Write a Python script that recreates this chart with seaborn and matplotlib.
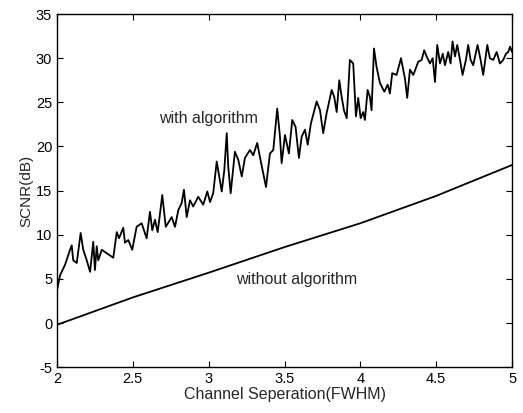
import numpy as np
import pandas as pd
import matplotlib
matplotlib.use("Agg")
import matplotlib.pyplot as plt
import seaborn as sns

# SCNR with algorithm (noisy trace)
sep_with = [2.000, 2.020, 2.053, 2.086, 2.097, 2.107, 2.130, 2.156, 2.173, 2.196,
            2.218, 2.239, 2.250, 2.262, 2.272, 2.295, 2.328, 2.371, 2.394, 2.409,
            2.437, 2.448, 2.470, 2.496, 2.525, 2.558, 2.591, 2.613, 2.628, 2.646,
            2.664, 2.694, 2.717, 2.756, 2.778, 2.800, 2.822, 2.837, 2.855, 2.877,
            2.898, 2.931, 2.964, 2.991, 3.009, 3.030, 3.053, 3.086, 3.103, 3.119,
            3.129, 3.145, 3.173, 3.195, 3.218, 3.239, 3.272, 3.294, 3.320, 3.338,
            3.378, 3.404, 3.426, 3.452, 3.470, 3.481, 3.503, 3.529, 3.551, 3.573,
            3.595, 3.613, 3.635, 3.653, 3.674, 3.712, 3.734, 3.755, 3.778, 3.811,
            3.828, 3.844, 3.861, 3.877, 3.892, 3.910, 3.931, 3.953, 3.971, 3.986,
            4.002, 4.019, 4.030, 4.048, 4.063, 4.074, 4.090, 4.107, 4.129, 4.158,
            4.180, 4.195, 4.210, 4.239, 4.268, 4.294, 4.309, 4.327, 4.349, 4.382,
            4.404, 4.421, 4.437, 4.459, 4.477, 4.492, 4.507, 4.525, 4.543, 4.558,
            4.579, 4.595, 4.608, 4.624, 4.639, 4.657, 4.674, 4.696, 4.711, 4.727,
            4.744, 4.773, 4.793, 4.810, 4.837, 4.854, 4.876, 4.899, 4.920, 4.942,
            4.960, 4.975, 4.987, 5.000]
scnr_with = [3.7, 5.4, 6.6, 8.3, 8.8, 7.1, 6.8, 10.2, 8.3, 7.1,
             5.8, 9.2, 6.0, 8.7, 7.1, 8.3, 7.9, 7.4, 10.3, 9.6,
             10.8, 9.1, 9.4, 8.3, 10.9, 11.3, 9.6, 12.6, 10.5, 11.7,
             10.3, 14.5, 10.9, 12.0, 10.9, 12.8, 13.6, 15.1, 12.0, 13.9,
             13.2, 14.3, 13.4, 14.9, 13.7, 14.7, 18.3, 14.9, 17.3, 21.5,
             17.7, 14.7, 19.4, 18.5, 16.6, 18.7, 19.6, 19.0, 20.4, 18.8,
             15.4, 19.2, 19.6, 24.3, 21.1, 18.1, 21.3, 19.2, 23.0, 22.2,
             18.7, 21.1, 21.9, 20.2, 22.6, 25.1, 24.1, 21.5, 23.8, 26.4,
             25.6, 23.9, 27.5, 25.6, 24.1, 23.2, 29.8, 29.4, 23.4, 25.5,
             23.2, 23.9, 23.0, 26.4, 25.6, 24.1, 31.1, 29.0, 27.2, 26.2,
             27.0, 26.0, 28.3, 28.1, 30.0, 27.7, 25.5, 28.7, 28.1, 29.6,
             29.8, 30.9, 30.2, 29.4, 30.0, 27.3, 31.5, 29.4, 30.5, 29.2,
             30.7, 29.4, 31.9, 30.2, 31.5, 29.8, 28.1, 29.8, 31.5, 29.8,
             29.2, 31.5, 29.8, 28.1, 31.5, 30.0, 29.8, 30.7, 29.4, 29.8,
             30.5, 30.7, 31.3, 30.7]

# SCNR without algorithm
sep_without = [2.0, 2.5, 3.0, 3.5, 4.0, 4.5, 5.0]
scnr_without = [-0.2, 2.9, 5.7, 8.6, 11.3, 14.4, 17.9]

sns.set_style("ticks")
plt.rcParams["font.family"] = ["Liberation Sans", "DejaVu Sans"]
plt.rcParams["axes.unicode_minus"] = False

df_with = pd.DataFrame({"sep": sep_with, "scnr": scnr_with})
df_without = pd.DataFrame({"sep": sep_without, "scnr": scnr_without})

fig = plt.figure(figsize=(5.23, 4.13), dpi=100)
ax = fig.add_axes([0.109, 0.111, 0.870, 0.855])

sns.lineplot(data=df_with, x="sep", y="scnr", ax=ax, color="black",
             linewidth=1.3, estimator=None, sort=False)
sns.lineplot(data=df_without, x="sep", y="scnr", ax=ax, color="black",
             linewidth=1.3, estimator=None, sort=False)

ax.set_xlim(2, 5)
ax.set_ylim(-5, 35)
ax.set_xticks([2, 2.5, 3, 3.5, 4, 4.5, 5])
ax.set_xticklabels(["2", "2.5", "3", "3.5", "4", "4.5", "5"])
ax.set_yticks(range(-5, 36, 5))
ax.tick_params(direction="in", top=True, right=True, length=4, width=0.8,
               labelsize=10.5, colors="black")
for s in ax.spines.values():
    s.set_visible(True)
    s.set_linewidth(1.0)
    s.set_color("black")

ax.set_xlabel("Channel Seperation(FWHM)", fontsize=11.5, labelpad=1)
ax.set_ylabel("SCNR(dB)", fontsize=11, labelpad=2)

ax.text(2.67, 23.2, "with algorithm", fontsize=11.5, va="center")
ax.text(3.18, 4.9, "without algorithm", fontsize=11.5, va="center")

fig.savefig("out.png", dpi=100)
plt.close(fig)
